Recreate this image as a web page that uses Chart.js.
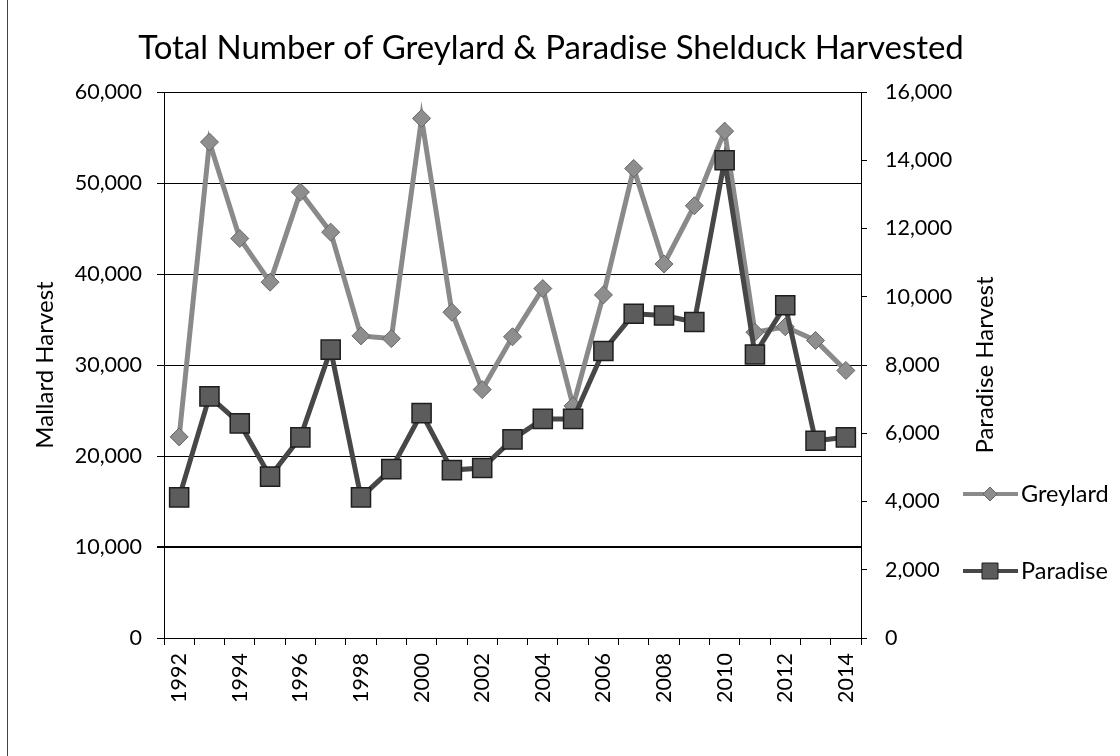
<!DOCTYPE html>
<html>
<head>
<meta charset="utf-8">
<script src="https://cdn.jsdelivr.net/npm/chart.js@4.4.1/dist/chart.umd.min.js"></script>
<style>
  html, body { margin: 0; padding: 0; background: #fff; }
  #wrap { position: relative; width: 1120px; height: 756px; }
</style>
</head>
<body>
<div id="wrap"><canvas id="c" width="1120" height="756"></canvas></div>
<script>
const years = ['1992','1993','1994','1995','1996','1997','1998','1999','2000','2001','2002','2003',
               '2004','2005','2006','2007','2008','2009','2010','2011','2012','2013','2014'];
const greylard = [22100, 54500, 43900, 39100, 49000, 44600, 33200, 32900, 57100, 35800, 27300, 33100,
                  38400, 25500, 37700, 51600, 41100, 47500, 55700, 33600, 34200, 32700, 29400];
const paradise = [4120, 7080, 6290, 4730, 5880, 8450, 4120, 4950, 6590, 4920, 4980, 5820,
                  6420, 6420, 8410, 9500, 9450, 9260, 14000, 8310, 9750, 5780, 5880];
const leftTicks = [0, 10000, 20000, 30000, 40000, 50000, 60000];
const rightTicks = [0, 2000, 4000, 6000, 8000, 10000, 12000, 14000, 16000];
const titleText = 'Total Number of Greylard & Paradise Shelduck Harvested';
const leftAxisTitle = 'Mallard Harvest';
const rightAxisTitle = 'Paradise Harvest';

const FONT = 'Lato';
const fmt = v => Number(v).toLocaleString('en-US');

const extrasPlugin = {
  id: 'extras',
  beforeDraw(chart) {
    const ctx = chart.ctx;
    ctx.save();
    ctx.fillStyle = '#fff';
    ctx.fillRect(0, 0, chart.width, chart.height);
    ctx.strokeStyle = '#444';
    ctx.lineWidth = 1;
    ctx.beginPath();
    ctx.moveTo(7.5, 0); ctx.lineTo(7.5, chart.height);
    ctx.stroke();
    ctx.restore();
  },
  afterDraw(chart) {
    const ctx = chart.ctx;
    ctx.save();
    ctx.fillStyle = '#000';
    ctx.font = '24px ' + FONT;
    ctx.textAlign = 'center';
    ctx.textBaseline = 'middle';
    ctx.translate(985, (chart.chartArea.top + chart.chartArea.bottom) / 2);
    ctx.rotate(-Math.PI / 2);
    ctx.fillText(rightAxisTitle, 0, 0);
    ctx.restore();

    const items = [chart.data.datasets[0], chart.data.datasets[1]];
    const ys = [494, 571];
    items.forEach((ds, i) => {
      const y = ys[i];
      ctx.save();
      ctx.strokeStyle = ds.borderColor;
      ctx.lineWidth = 4;
      ctx.beginPath();
      ctx.moveTo(963, y); ctx.lineTo(1018, y);
      ctx.stroke();
      ctx.fillStyle = ds.pointBackgroundColor;
      ctx.strokeStyle = ds.pointBorderColor;
      ctx.lineWidth = 1;
      ctx.beginPath();
      if (ds.pointStyle === 'rectRot') {
        ctx.moveTo(990 - 7, y); ctx.lineTo(990, y - 7); ctx.lineTo(990 + 7, y); ctx.lineTo(990, y + 7);
        ctx.closePath();
      } else {
        ctx.rect(990 - 8, y - 8, 16, 16);
      }
      ctx.fill(); ctx.stroke();
      ctx.fillStyle = '#000';
      ctx.font = '23.5px ' + FONT;
      ctx.textAlign = 'left';
      ctx.textBaseline = 'middle';
      ctx.fillText(ds.label, 1021, y);
      ctx.restore();
    });
  }
};

new Chart(document.getElementById('c'), {
  type: 'line',
  data: {
    labels: years,
    datasets: [
      {
        label: 'Greylard',
        data: greylard,
        yAxisID: 'y',
        order: 2,
        borderColor: '#8a8a8a',
        borderWidth: 5,
        pointStyle: 'rectRot',
        pointRadius: 9,
        pointBackgroundColor: '#8e8e8e',
        pointBorderColor: '#666',
        pointBorderWidth: 1,
        tension: 0
      },
      {
        label: 'Paradise',
        data: paradise,
        yAxisID: 'y2',
        order: 1,
        borderColor: '#474747',
        borderWidth: 5,
        pointStyle: 'rect',
        pointRadius: 13.5,
        pointBackgroundColor: '#5c5c5c',
        pointBorderColor: '#1e1e1e',
        pointBorderWidth: 1.5,
        tension: 0
      }
    ]
  },
  options: {
    responsive: false,
    animation: false,
    layout: { padding: { left: 0, right: 18, top: 0, bottom: 0 } },
    plugins: {
      legend: { display: false },
      tooltip: { enabled: false },
      title: {
        display: true,
        text: titleText,
        color: '#000',
        font: { family: FONT, size: 33, weight: 'normal', lineHeight: 1.2 },
        padding: { top: 29, bottom: 23.4 }
      }
    },
    scales: {
      x: {
        type: 'category',
        offset: true,
        afterFit: s => { s.height = 118; },
        border: { display: true, color: '#000', width: 1 },
        grid: { offset: true, drawOnChartArea: false, drawTicks: true, tickLength: 7, color: '#000' },
        ticks: {
          autoSkip: false,
          minRotation: 90,
          maxRotation: 90,
          padding: 8,
          color: '#000',
          font: { family: FONT, size: 21.5 },
          callback: function (v, i) { return i % 2 === 0 ? this.getLabelForValue(v) : ''; }
        }
      },
      y: {
        position: 'left',
        min: 0, max: 60000,
        afterFit: s => { s.width = 164; },
        afterBuildTicks: s => { s.ticks = leftTicks.map(v => ({ value: v })); },
        border: { display: true, color: '#000', width: 1 },
        grid: { color: '#000', lineWidth: c => (c.tick && c.tick.value === 10000 ? 2 : 1), tickLength: 7 },
        ticks: { color: '#000', padding: 15, font: { family: FONT, size: 21.5 }, callback: v => fmt(v) },
        title: {
          display: true, text: leftAxisTitle, color: '#000',
          font: { family: FONT, size: 24, lineHeight: 1.2 },
          padding: { top: 31, bottom: 0 }
        }
      },
      y2: {
        position: 'right',
        min: 0, max: 16000,
        afterFit: s => { s.width = 241; },
        afterBuildTicks: s => { s.ticks = rightTicks.map(v => ({ value: v })); },
        border: { display: true, color: '#000', width: 1 },
        grid: { drawOnChartArea: false, color: '#000', tickLength: 6 },
        ticks: { color: '#000', padding: 18, font: { family: FONT, size: 21.5 }, callback: v => fmt(v) }
      }
    }
  },
  plugins: [extrasPlugin]
});
</script>
</body>
</html>
